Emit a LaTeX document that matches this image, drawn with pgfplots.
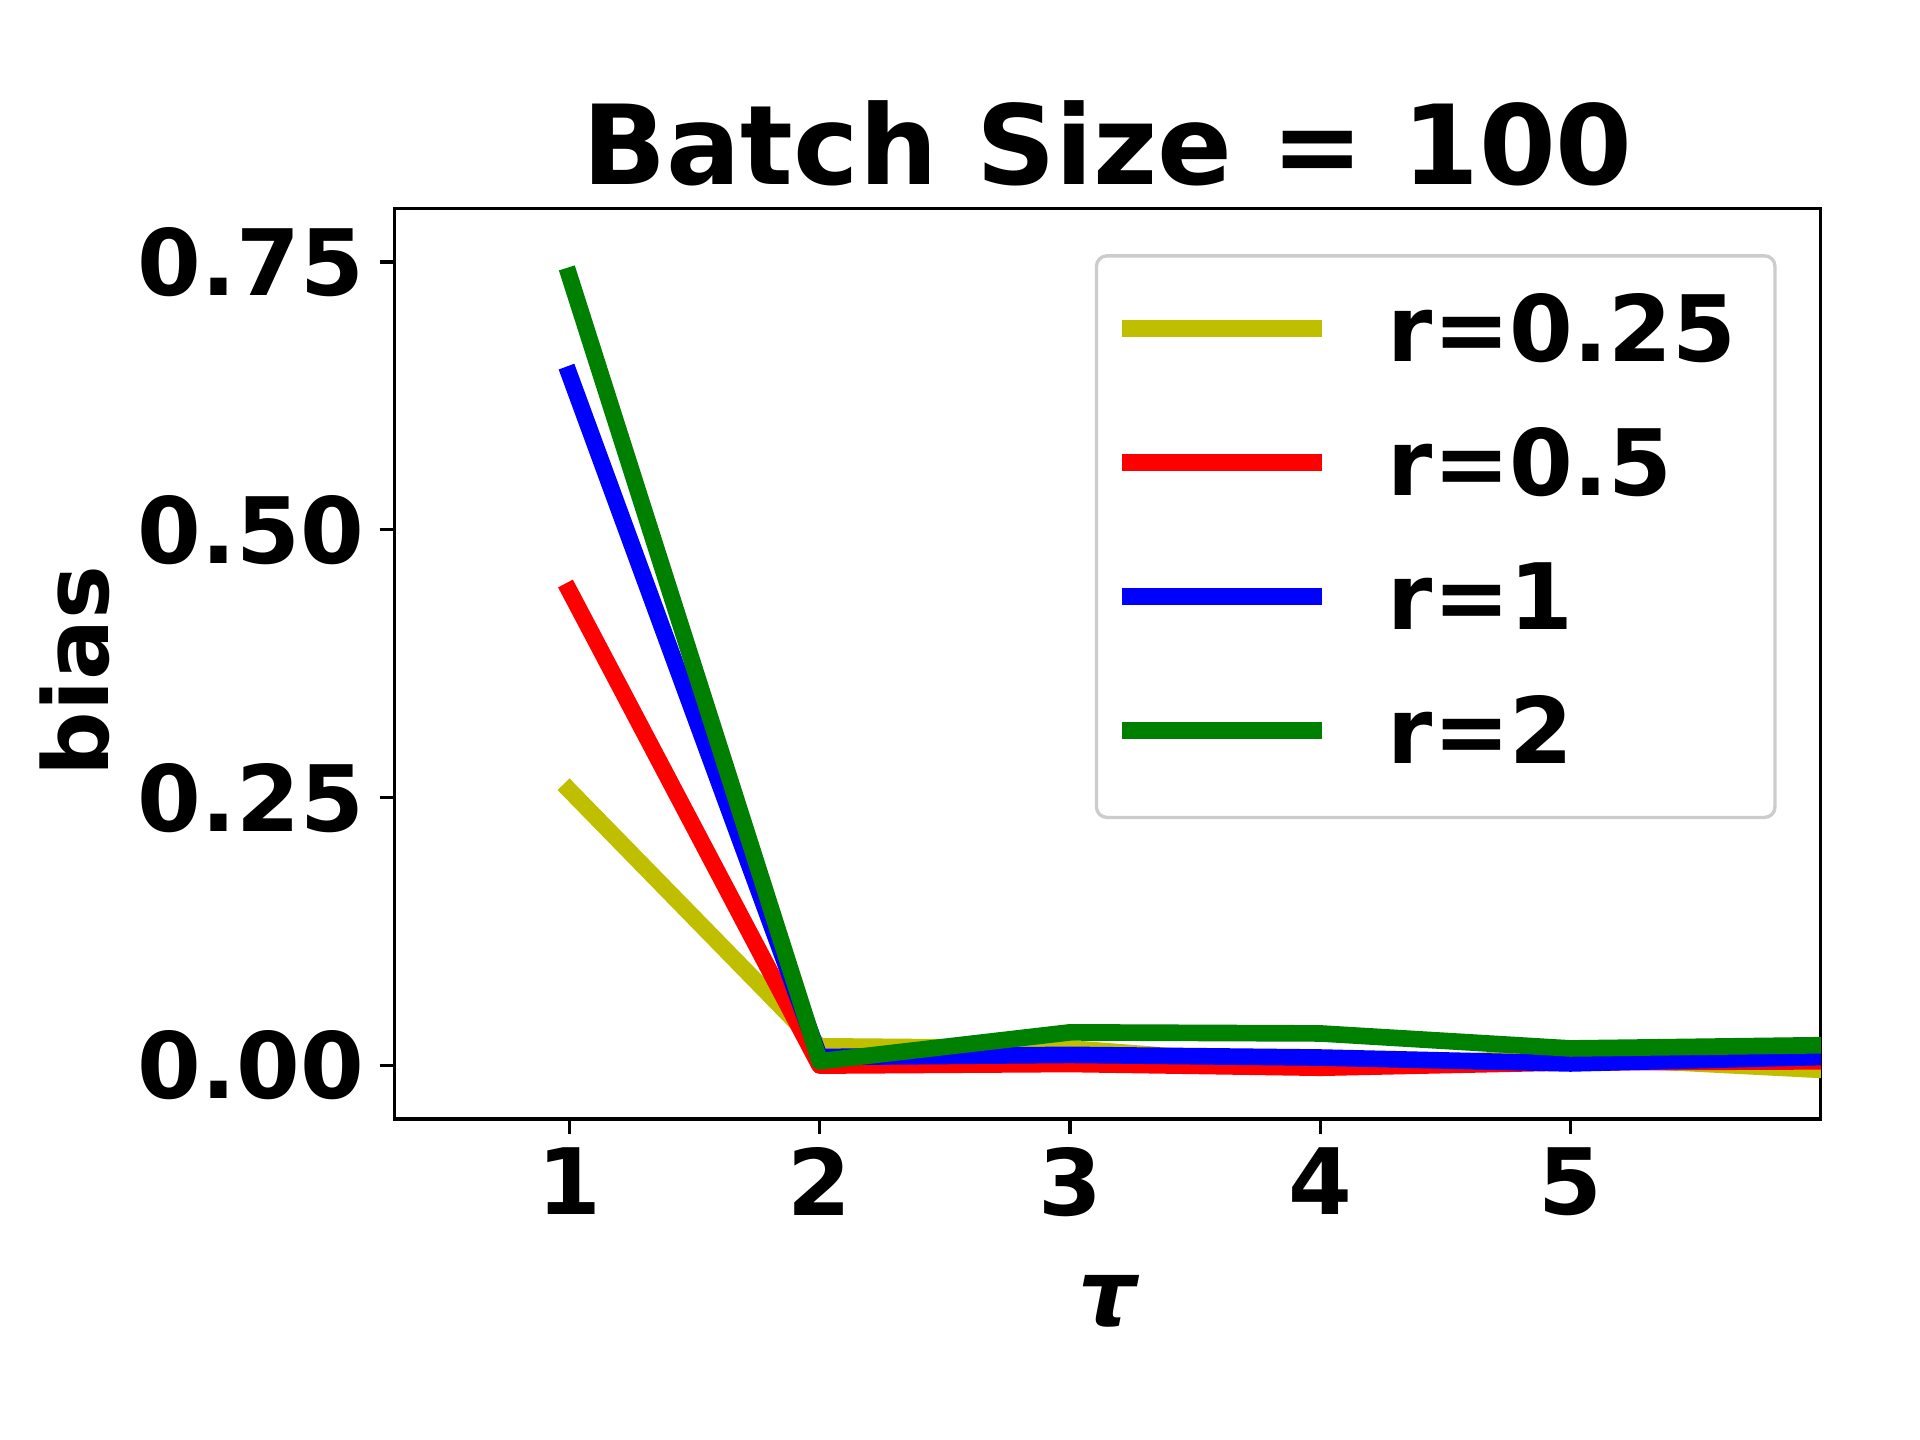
\documentclass[border=0pt]{standalone}
\usepackage{fontspec}
\setmainfont{DejaVu Sans}
\usepackage{pgfplots}
\pgfplotsset{compat=1.18}
\definecolor{cy}{rgb}{0.75,0.75,0}
\definecolor{cg}{rgb}{0,0.5,0}
\definecolor{lgframe}{rgb}{0.8,0.8,0.8}
\pgfplotsset{
  normallegend/.style={legend image code/.code={\draw[##1, line cap=rect] (2pt,0pt) -- (46pt,0pt);}},
  lastlegend/.style={legend image code/.code={\draw[##1, line cap=rect] (2pt,0pt) -- (46pt,0pt); \path (2pt,-9.2pt);}},
}
\begin{document}
\begin{tikzpicture}
\path[use as bounding box] (0,0) rectangle (460.8pt,345.6pt);
\begin{axis}[
  at={(94.6pt,77.0pt)}, anchor=south west, scale only axis,
  width=342.4pt, height=218.6pt,
  xmin=0.3, xmax=6, ymin=-0.05, ymax=0.8,
  xtick={1,2,3,4,5}, xticklabels={1,2,3,4,5},
  ytick={0,0.25,0.5,0.75}, yticklabels={0.00,0.25,0.50,0.75},
  tick align=outside, tick pos=left, major tick length=3.5pt,
  tick style={black, line width=0.8pt},
  axis line style={line width=0.8pt},
  ticklabel style={font=\bfseries\fontsize{22}{26}\selectfont, inner sep=0pt},
  yticklabel style={xshift=-3.5pt},
  xticklabel style={yshift=-3.1pt},
  title={Batch Size = 100},
  title style={at={(axis description cs:0.5,1)}, anchor=base, yshift=-0.2pt,
    font=\bfseries\fontsize{26.5}{32}\selectfont},
  xlabel={\itshape τ},
  xlabel style={at={(axis description cs:0.5,0)}, anchor=base, yshift=-49.5pt,
    font=\bfseries\fontsize{22}{26}\selectfont},
  ylabel={bias},
  ylabel style={at={(axis description cs:-0.2,0.4918)}, anchor=base,
    font=\bfseries\fontsize{21.7}{26}\selectfont},
  legend cell align=left,
  legend style={at={(axis description cs:1,1)}, anchor=north east,
    xshift=-10.6pt, yshift=-11pt, draw=lgframe, line width=0.8pt,
    rounded corners=2.5pt, inner xsep=6.24pt, inner ysep=9.6pt, row sep=16.36pt,
    font=\bfseries\fontsize{22}{26}\selectfont,
    nodes={inner sep=0pt, text height=15.8pt, text depth=0pt},
    /tikz/every odd column/.append style={column sep=15.7pt}},
  normallegend,
  every axis plot/.append style={line width=4pt, line cap=rect, line join=round},
]
\addplot[cy] coordinates {(1,0.257)(2,0.018)(3,0.016)(4,-0.002)(5,0.008)(6,-0.004)};
\addlegendentry{r=0.25\hspace*{3.1pt}}
\addplot[red] coordinates {(1,0.443)(2,0.0)(3,0.0015)(4,-0.002)(5,0.003)(6,0.004)};
\addlegendentry{r=0.5}
\addplot[blue] coordinates {(1,0.645)(2,0.008)(3,0.010)(4,0.0075)(5,0.002)(6,0.008)};
\addlegendentry{r=1}
\addplot[cg, lastlegend]
  coordinates {(1,0.737)(2,0.004)(3,0.031)(4,0.030)(5,0.016)(6,0.019)};
\addlegendentry{r=2}
\end{axis}
\end{tikzpicture}
\end{document}
